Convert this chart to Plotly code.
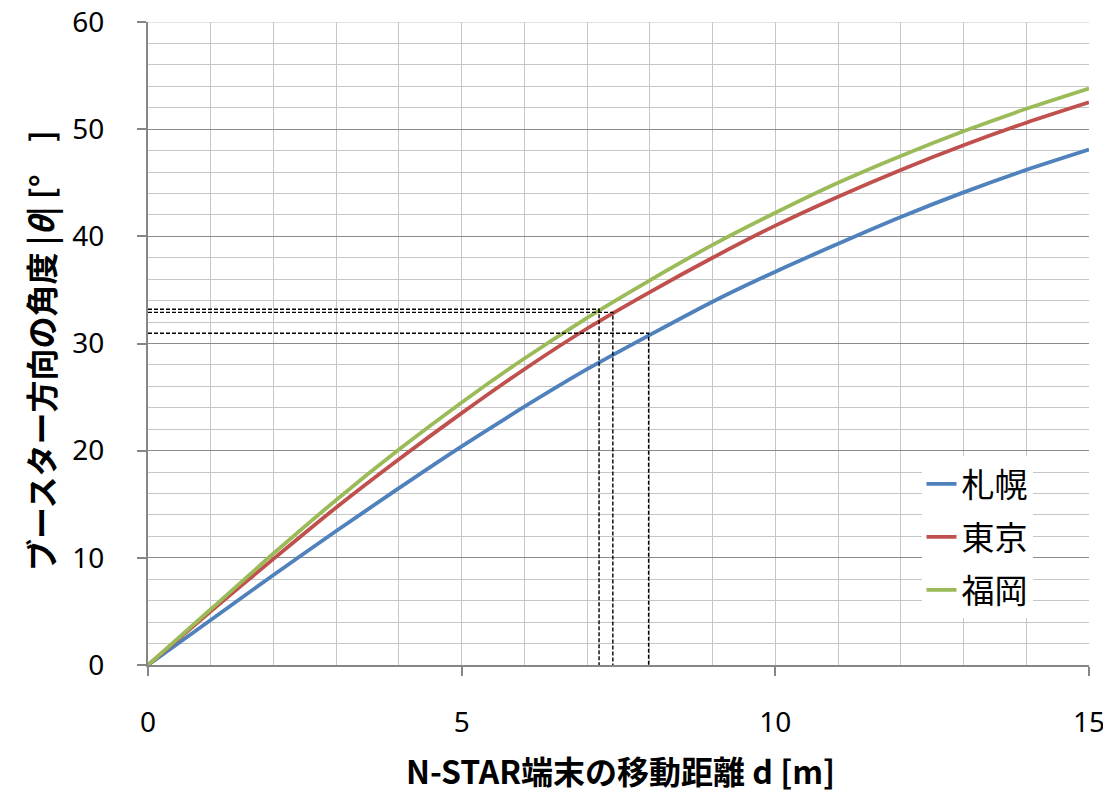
import plotly.graph_objects as go

distance_m = [0, 1, 2, 3, 4, 5, 6, 7, 8, 9, 10, 11, 12, 13, 14, 15]
sapporo = [0, 4.2, 8.4, 12.5, 16.5, 20.4, 24.1, 27.6, 30.8, 33.9, 36.7, 39.3, 41.8, 44.1, 46.2, 48.1]
tokyo = [0, 5.0, 9.9, 14.7, 19.2, 23.5, 27.6, 31.4, 34.8, 38.0, 41.0, 43.7, 46.2, 48.5, 50.6, 52.5]
fukuoka = [0, 5.2, 10.4, 15.4, 20.1, 24.5, 28.6, 32.4, 35.9, 39.2, 42.2, 45.0, 47.5, 49.8, 51.9, 53.8]

series_names = ["札幌", "東京", "福岡"]
series_colors = ["#4F81BD", "#C0504D", "#9BBB59"]

# reference crossing points (dashed guide lines)
guide_x = [7.98, 7.41, 7.19]
guide_y = [30.95, 32.9, 33.2]

x_ticks = [0, 5, 10, 15]
y_ticks = [0, 10, 20, 30, 40, 50, 60]

FONT = "Noto Sans CJK JP"
NUMFONT = "Noto Sans"

fig = go.Figure()
for name, vals, col in zip(series_names, [sapporo, tokyo, fukuoka], series_colors):
    fig.add_trace(go.Scatter(x=distance_m, y=vals, mode="lines", name=name, legendgroup=name,
                             line=dict(color=col, width=3.8, shape="spline", smoothing=0.8)))

gx, gy = [], []
for xv, yv in zip(guide_x, guide_y):
    gx += [0, xv, xv, None]
    gy += [yv, yv, 0, None]
fig.add_trace(go.Scatter(x=gx, y=gy, mode="lines", showlegend=False, hoverinfo="skip",
                         line=dict(color="black", width=1.4, dash="4px,2px")))

fig.add_shape(type="line", xref="x", yref="y", x0=0, x1=15, y0=60, y1=60,
              line=dict(color="#C6C6C6", width=1.2), layer="below")

fig.update_layout(
    width=1103, height=793,
    margin=dict(l=148, t=22, r=14, b=128, autoexpand=False),
    paper_bgcolor="white", plot_bgcolor="white",
    font=dict(family=FONT, size=28, color="black"),
    showlegend=True,
    legend=dict(x=0.822, y=0.325, xanchor="left", yanchor="top",
                bgcolor="white", font=dict(family=FONT, size=33, color="black"),
                itemwidth=30, tracegroupgap=7),
    xaxis=dict(range=[0, 15], tickvals=x_ticks, ticktext=[str(v) for v in x_ticks],
               automargin=False, ticklabeloverflow="allow",
               showgrid=True, gridcolor="#C6C6C6", gridwidth=1.2,
               minor=dict(dtick=1, showgrid=True, gridcolor="#C6C6C6", gridwidth=1.2, ticks=""),
               ticks="outside", ticklen=9, tickcolor="#868686", tickwidth=1.5,
               showline=True, linecolor="#868686", linewidth=2, zeroline=False,
               ticklabelstandoff=22, tickfont=dict(family=NUMFONT, size=28)),
    yaxis=dict(range=[0, 60], tickvals=y_ticks, ticktext=[str(v) for v in y_ticks],
               automargin=False, ticklabeloverflow="allow",
               showgrid=True, gridcolor="#8C8C8C", gridwidth=1.2,
               minor=dict(dtick=2, showgrid=True, gridcolor="#C6C6C6", gridwidth=1.2, ticks=""),
               ticks="outside", ticklen=9, tickcolor="#868686", tickwidth=1.5,
               showline=True, linecolor="#868686", linewidth=2, zeroline=False,
               ticklabelstandoff=27, tickfont=dict(family=NUMFONT, size=28)),
    annotations=[
        dict(text="<b>N-STAR端末の移動距離 d [m]</b>", xref="paper", yref="paper",
             x=0.5016, y=-0.163, xanchor="center", yanchor="middle", showarrow=False,
             font=dict(family=FONT, size=32, color="black")),
        dict(text="<b>ブースター方向の角度 |<i>θ</i>| [°　]</b>", xref="paper", yref="paper",
             x=-0.1148, y=0.49, xanchor="center", yanchor="middle", showarrow=False,
             textangle=-90, font=dict(family=FONT, size=32, color="black")),
    ],
)

fig.write_html("out.html", config={"displayModeBar": False},
               post_script="document.body.style.margin='0px';document.body.style.overflow='hidden';")
